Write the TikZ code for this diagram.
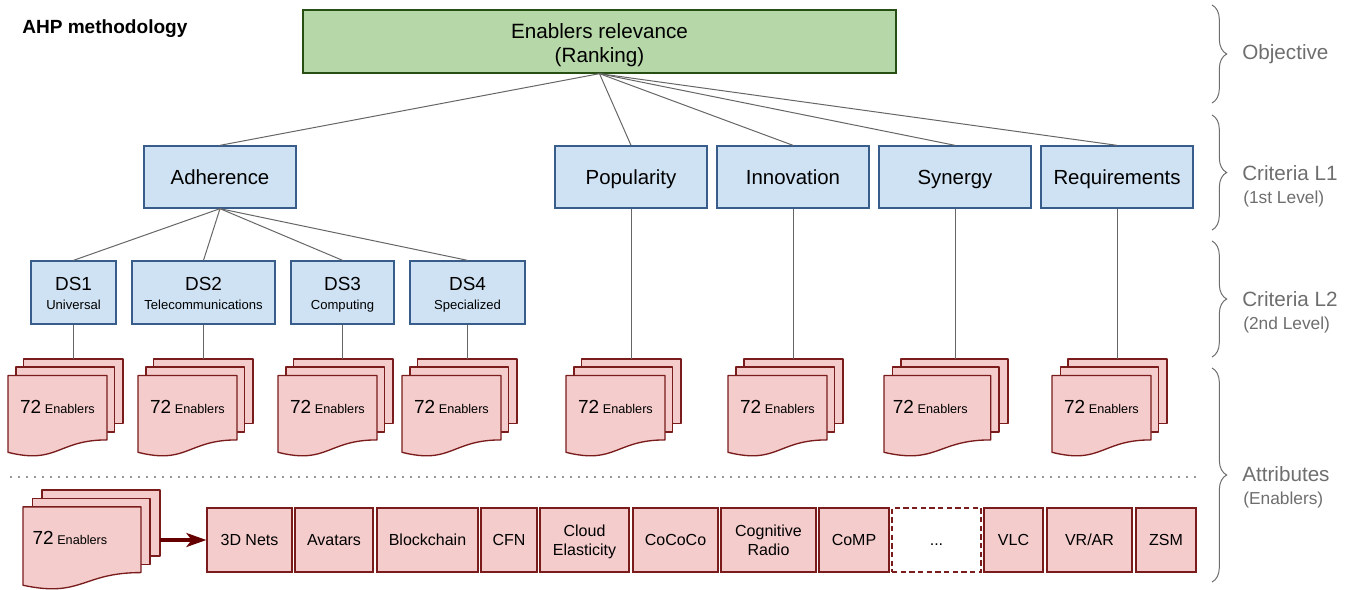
\documentclass[tikz,border=0pt]{standalone}
\usepackage{fontspec}
\setmainfont{Liberation Sans}
\usetikzlibrary{arrows.meta,decorations.pathreplacing}

\definecolor{objfill}{HTML}{B6D7A8}
\definecolor{objline}{HTML}{274E13}
\definecolor{critfill}{HTML}{CFE2F3}
\definecolor{critline}{HTML}{385D8A}
\definecolor{enfill}{HTML}{F4CCCC}
\definecolor{enline}{HTML}{7A1C1C}
\definecolor{arrowred}{HTML}{660000}
\definecolor{linkgray}{HTML}{666666}
\definecolor{levelgray}{HTML}{6E6E6E}
\definecolor{sepgray}{HTML}{999999}

% Two-line boxes keep the last baseline at half the text height below the centre.
\tikzset{
  objbox/.style={draw=objline, fill=objfill, line width=1pt, inner sep=0pt,
    align=center, font=\fontsize{15.5}{18}\selectfont,
    text height=31.4pt, text depth=0pt},
  critbox/.style={draw=critline, fill=critfill, line width=1pt, inner sep=0pt,
    align=center, font=\fontsize{15.3}{18}\selectfont,
    text height=11pt, text depth=0pt},
  dsbox/.style={draw=critline, fill=critfill, line width=1pt, inner sep=0pt,
    align=center, font=\fontsize{14.2}{14.2}\selectfont,
    text height=25.8pt, text depth=0pt},
  enabler/.style={draw=enline, fill=enfill, line width=1pt, inner sep=0pt,
    align=center, font=\fontsize{12}{14.3}\selectfont},
  enabler1/.style={enabler, text height=8.6pt, text depth=0pt},
  enabler2/.style={enabler, text height=23.6pt, text depth=0pt},
  moreenablers/.style={enabler1, fill=white, dashed, dash pattern=on 4pt off 2.5pt},
  sheet/.style={draw=enline, fill=enfill, line width=1pt, line join=round},
  stacktext/.style={inner sep=0pt},
  link/.style={draw=linkgray, line width=0.75pt},
  feed/.style={draw=arrowred, line width=2.3pt,
    -{Stealth[length=15pt, width=10.5pt, inset=4pt]}},
  levelbrace/.style={draw=levelgray, line width=0.75pt,
    decorate, decoration={brace, amplitude=11pt}},
  levelname/.style={anchor=west, inner sep=0pt, text=levelgray,
    font=\fontsize{15.5}{18}\selectfont},
  levelnote/.style={anchor=west, inner sep=0pt, text=levelgray,
    font=\fontsize{13}{15}\selectfont},
  sepline/.style={draw=sepgray, line width=1.3pt, dash pattern=on 1.5pt off 4.5pt},
}

% Rectangle node given by its corners in px: #1 style, #2 name, #3 x1, #4 y1, #5 x2, #6 y2, #7 text
\newcommand\boxat[7]{%
  \pgfmathsetmacro\bxW{(#5-#3)*0.75}%
  \pgfmathsetmacro\bxH{(#6-#4)*0.75}%
  \pgfmathsetmacro\bxX{(#3+#5)/2}%
  \pgfmathsetmacro\bxY{(#4+#6)/2}%
  \node[#1, minimum width=\bxW pt, minimum height=\bxH pt] (#2) at (\bxX,\bxY) {#7};
}

% Stack of three enabler sheets (multi-document shape).
% #1 name, #2 left x, #3 top y, #4 width, #5 height (all in px), #6 caption shift, #7 caption
\newcommand\enablerstack[7]{%
  \pgfmathsetmacro\esXb{#2+0.1376*#4}%
  \pgfmathsetmacro\esXm{#2+0.0709*#4}%
  \pgfmathsetmacro\esXr{#2+#4}%
  \pgfmathsetmacro\esXmr{#2+0.926*#4}%
  \pgfmathsetmacro\esXfr{#2+0.861*#4}%
  \pgfmathsetmacro\esXc{#2+0.430*#4}%
  \pgfmathsetmacro\esXt{#2+0.430*#4+#6}%
  \pgfmathsetmacro\esYb{#3+0.666*#5}%
  \pgfmathsetmacro\esYmt{#3+0.084*#5}%
  \pgfmathsetmacro\esYmb{#3+0.752*#5}%
  \pgfmathsetmacro\esYft{#3+0.170*#5}%
  \pgfmathsetmacro\esYfr{#3+0.834*#5}%
  \pgfmathsetmacro\esYdip{#3+1.090*#5}%
  \pgfmathsetmacro\esYfl{#3+0.962*#5}%
  \pgfmathsetmacro\esYt{#3+0.170*#5+31}%
  \pgfmathsetmacro\esXtop{(\esXb+\esXr)/2}%
  \path[sheet] (\esXb,#3) rectangle (\esXr,\esYb);
  \path[sheet] (\esXm,\esYmt) rectangle (\esXmr,\esYmb);
  \path[sheet] (#2,\esYft) -- (\esXfr,\esYft) -- (\esXfr,\esYfr)
    .. controls (\esXc,\esYfr) and (\esXc,\esYdip) .. (#2,\esYfl) -- cycle;
  \node[stacktext] (#1) at (\esXt,\esYt) {#7};
  \coordinate (#1-top) at (\esXtop,#3);
  \coordinate (#1-back) at (\esXr,#3);
}

\newcommand\seventytwo{{\fontsize{14.2}{16}\selectfont 72} {\fontsize{9.5}{11}\selectfont Enablers}}
\newcommand\dssub[1]{{\fontsize{9.8}{14.2}\selectfont #1}}

\begin{document}
\begin{tikzpicture}[x=0.75pt, y=-0.75pt]
\useasboundingbox (0,0) rectangle (1349,589);

% title
\node[anchor=west, inner sep=0pt, font=\bfseries\fontsize{14.3}{17}\selectfont] (title) at (22,29) {AHP methodology};

% objective
\boxat{objbox}{obj}{303}{10}{896}{73}{Enablers relevance\\(Ranking)}

% criteria, first level
\boxat{critbox}{adh}{144}{146}{296}{208}{Adherence}
\boxat{critbox}{pop}{555}{146}{707}{208}{Popularity}
\boxat{critbox}{inn}{717}{146}{869}{208}{Innovation}
\boxat{critbox}{syn}{879}{146}{1031}{208}{Synergy}
\boxat{critbox}{req}{1041}{146}{1193}{208}{Requirements}

% criteria, second level
\boxat{dsbox}{ds1}{31}{261}{116}{324}{DS1\\\dssub{Universal}}
\boxat{dsbox}{ds2}{132}{261}{275}{324}{DS2\\\dssub{Telecommunications}}
\boxat{dsbox}{ds3}{291}{261}{394}{324}{DS3\\\dssub{Computing}}
\boxat{dsbox}{ds4}{410}{261}{525}{324}{DS4\\\dssub{Specialized}}

% links of the hierarchy
\foreach \c in {adh,pop,inn,syn,req} \draw[link] (obj.south) -- (\c.north);
\foreach \c in {ds1,ds2,ds3,ds4} \draw[link] (adh.south) -- (\c.north);

% enabler stacks under each criterion
\enablerstack{st1}{8}{359}{115}{97}{0}{\seventytwo}
\enablerstack{st2}{138}{359}{115}{97}{0}{\seventytwo}
\enablerstack{st3}{278}{359}{115}{97}{0}{\seventytwo}
\enablerstack{st4}{402}{359}{115}{97}{0}{\seventytwo}
\enablerstack{st5}{566}{359}{115}{97}{0}{\seventytwo}
\enablerstack{st6}{728}{359}{115}{97}{0}{\seventytwo}
\enablerstack{st7}{884}{359}{124}{97}{-7}{\seventytwo}
\enablerstack{st8}{1052}{359}{115}{97}{0}{\seventytwo}

\draw[link] (ds1.south) -- (ds1.south |- st1-top);
\draw[link] (ds2.south) -- (ds2.south |- st2-top);
\draw[link] (ds3.south) -- (ds3.south |- st3-top);
\draw[link] (ds4.south) -- (ds4.south |- st4-top);
\draw[link] (pop.south) -- (pop.south |- st5-top);
\draw[link] (inn.south) -- (inn.south |- st6-top);
\draw[link] (syn.south) -- (syn.south |- st7-top);
\draw[link] (req.south) -- (req.south |- st8-top);

% separator
\coordinate (sepL) at (10,477);
\coordinate (sepR) at (1200,477);
\draw[sepline] (sepL) -- (sepR);

% list of enablers
\enablerstack{all}{23}{490}{137}{99}{-12}{\seventytwo}
\boxat{enabler1}{e1}{207}{508}{292}{572}{3D Nets}
\boxat{enabler1}{e2}{295}{508}{373}{572}{Avatars}
\boxat{enabler1}{e3}{377}{508}{478}{572}{Blockchain}
\boxat{enabler1}{e4}{481}{508}{537}{572}{CFN}
\boxat{enabler2}{e5}{540}{508}{629}{572}{Cloud\\Elasticity}
\boxat{enabler1}{e6}{633}{508}{718}{572}{CoCoCo}
\boxat{enabler2}{e7}{721}{508}{816}{572}{Cognitive\\Radio}
\boxat{enabler1}{e8}{819}{508}{889}{572}{CoMP}
\boxat{moreenablers}{e9}{892}{508}{981}{572}{...}
\boxat{enabler1}{e10}{984}{508}{1043}{572}{VLC}
\boxat{enabler1}{e11}{1047}{508}{1132}{572}{VR/AR}
\boxat{enabler1}{e12}{1136}{508}{1196}{572}{ZSM}

\draw[feed] (all-back |- e1.west) -- (e1.west);

% hierarchy levels
\draw[levelbrace] (1212,5) -- (1212,103);
\draw[levelbrace] (1212,115) -- (1212,230);
\draw[levelbrace] (1212,241) -- (1212,357);
\draw[levelbrace] (1212,368) -- (1212,582);

\node[levelname] (lv0) at (1242,54) {Objective};
\node[levelname] (lv1) at (1242,173) {Criteria L1};
\node[levelnote] (lv1n) at (1243,199) {(1st Level)};
\node[levelname] (lv2) at (1242,299) {Criteria L2};
\node[levelnote] (lv2n) at (1243,325) {(2nd Level)};
\node[levelname] (lv3) at (1242,474) {Attributes};
\node[levelnote] (lv3n) at (1243,500) {(Enablers)};
\end{tikzpicture}
\end{document}
